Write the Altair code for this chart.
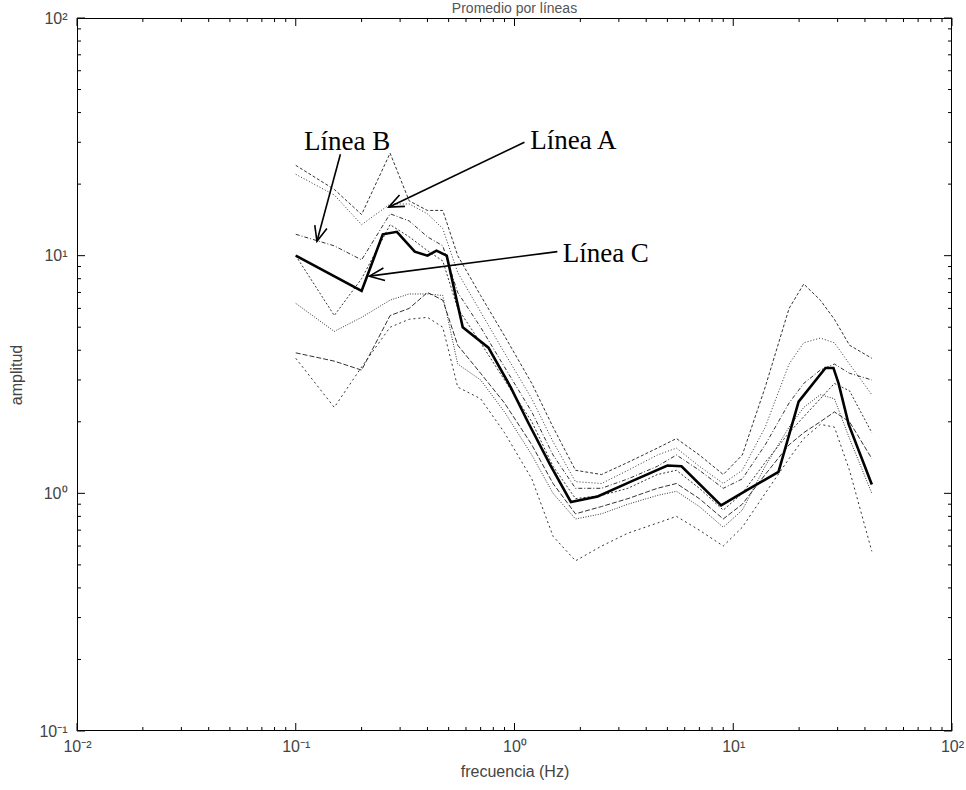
import math
import altair as alt
import pandas as pd

# ---------------- data ----------------
freq = [0.1, 0.15, 0.2, 0.27, 0.33, 0.4, 0.47, 0.55, 0.7, 0.9, 1.2, 1.5, 1.9, 2.5,
        3.3, 4.5, 5.5, 7, 9, 11, 14, 18, 21, 25, 29, 34, 43]

serie_1 = [24, 19, 14.9, 27, 17, 15.5, 15.5, 10, 6.8, 4.6, 2.9, 1.9, 1.25, 1.2, 1.35,
           1.55, 1.7, 1.45, 1.2, 1.45, 2.8, 6.0, 7.6, 6.5, 5.4, 4.2, 3.7]
serie_2 = [22, 18, 13.5, 16.5, 16.5, 15, 13, 8.5, 5.8, 3.9, 2.5, 1.65, 1.12, 1.1, 1.25,
           1.45, 1.55, 1.3, 1.1, 1.25, 1.9, 3.5, 4.3, 4.5, 4.3, 3.5, 2.6]
serie_3 = [12.3, 11, 9.6, 15, 14, 12, 11, 7, 5, 3.4, 2.2, 1.45, 1.05, 1.05, 1.15,
           1.3, 1.45, 1.25, 1.05, 1.15, 1.6, 2.4, 2.9, 3.3, 3.5, 3.2, 3.0]
serie_4 = [10, 5.6, 8.0, 13.5, 12, 10.5, 9.5, 6, 4.3, 3.0, 2.0, 1.3, 0.95, 0.98, 1.05,
           1.2, 1.25, 1.05, 0.85, 1.0, 1.35, 1.8, 2.1, 2.5, 2.9, 2.7, 1.8]
serie_5 = [6.3, 4.8, 5.5, 6.5, 6.9, 6.9, 6.8, 3.5, 3.0, 2.2, 1.45, 1.0, 0.78, 0.82, 0.9,
           0.98, 1.02, 0.88, 0.72, 0.85, 1.3, 1.9, 2.3, 2.6, 2.5, 1.7, 1.0]
serie_6 = [3.9, 3.6, 3.3, 5.6, 6.0, 7.0, 6.5, 4.2, 3.2, 2.4, 1.6, 1.1, 0.82, 0.88, 0.95,
           1.05, 1.1, 0.95, 0.78, 0.9, 1.2, 1.6, 1.8, 2.0, 2.2, 2.0, 1.4]
serie_7 = [3.7, 2.3, 3.4, 5.0, 5.4, 5.5, 5.0, 2.8, 2.5, 1.8, 1.15, 0.66, 0.52, 0.6, 0.68,
           0.75, 0.8, 0.7, 0.6, 0.72, 1.0, 1.4, 1.7, 1.95, 1.9, 1.25, 0.57]

prom_freq = [0.1, 0.2, 0.25, 0.29, 0.35, 0.4, 0.44, 0.49, 0.58, 0.76, 0.96, 1.15, 1.46,
             1.81, 2.4, 3.4, 5.0, 5.8, 8.8, 11.7, 16.1, 19.9, 26.4, 28.7, 30.3, 33.7, 43]
prom_amp = [10, 7.1, 12.3, 12.6, 10.4, 10, 10.5, 10.0, 5.0, 4.1, 2.8, 2.0, 1.31, 0.92,
            0.97, 1.12, 1.31, 1.30, 0.89, 1.04, 1.23, 2.43, 3.37, 3.37, 2.9, 1.95, 1.09]

titulo = "Promedio por líneas"
etiquetas = ["Línea A", "Línea B", "Línea C"]
etiq_f = [1.18, 0.109, 1.66]
etiq_a = [30.5, 30, 10.2]
flecha_f0 = [1.11, 0.160, 1.57]
flecha_a0 = [30, 26.7, 10.4]
flecha_f1 = [0.266, 0.125, 0.217]
flecha_a1 = [16.0, 11.5, 8.2]

x_ticks_major = [0.01, 0.1, 1, 10, 100]
y_ticks_major = [0.1, 1, 10, 100]
x_ticks_minor = [k * 10 ** d for d in range(-2, 2) for k in range(2, 10)]
y_ticks_minor = [k * 10 ** d for d in range(-1, 2) for k in range(2, 10)]

# ---------------- build tables ----------------
W, H = 875, 713
series = [serie_1, serie_2, serie_3, serie_4, serie_5, serie_6, serie_7]
rows = []
for i, s in enumerate(series):
    for f, a in zip(freq, s):
        rows.append({"serie": f"s{i+1}", "f": f, "a": a})
df_thin = pd.DataFrame(rows)
df_mean = pd.DataFrame({"f": prom_freq, "a": prom_amp})
df_lab = pd.DataFrame({"t": etiquetas, "f": etiq_f, "a": etiq_a})


def px(f):
    return W * (math.log10(f) + 2) / 4


def py(a):
    return H * (2 - math.log10(a)) / 3


angles = []
for f0, a0, f1, a1 in zip(flecha_f0, flecha_a0, flecha_f1, flecha_a1):
    dx = px(f1) - px(f0)
    dy = py(a1) - py(a0)
    angles.append(math.degrees(math.atan2(dx, -dy)) % 360)
df_arr = pd.DataFrame({"f0": flecha_f0, "a0": flecha_a0, "f1": flecha_f1,
                       "a1": flecha_a1, "ang": angles})

xs = alt.Scale(type="log", domain=[0.01, 100], nice=False)
ys = alt.Scale(type="log", domain=[0.1, 100], nice=False)

sup = "['⁻²','⁻¹','⁰','¹','²'][round(log(datum.value)/LN10)+2]"
x_axis = alt.Axis(values=x_ticks_major, labelExpr="'10' + " + sup, ticks=False,
                  domain=False, grid=False, labelPadding=7, labelFontSize=16,
                  labelFont="Liberation Sans", labelColor="#444",
                  title="frecuencia (Hz)", titleFontSize=16, titleFont="Liberation Sans",
                  titleFontWeight="normal", titleColor="#444", titlePadding=9,
                  labelFlush=False)
y_axis = alt.Axis(values=y_ticks_major, labelExpr="'10' + " + sup, ticks=False,
                  domain=False, grid=False, labelPadding=10, labelFontSize=16,
                  labelFont="Liberation Sans", labelColor="#444",
                  title="amplitud", titleFontSize=16, titleFont="Liberation Sans",
                  titleFontWeight="normal", titleColor="#444", titlePadding=14,
                  labelFlush=False)

X = lambda fld: alt.X(fld, type="quantitative", scale=xs, axis=x_axis)
Y = lambda fld: alt.Y(fld, type="quantitative", scale=ys, axis=y_axis)

thin = alt.Chart(df_thin).mark_line(strokeWidth=1, color="#333", clip=True).encode(
    x=X("f"), y=Y("a"), detail="serie:N",
    strokeDash=alt.StrokeDash("serie:N", legend=None, scale=alt.Scale(
        range=[[3, 2], [1, 2], [4, 2, 1, 2], [2, 2], [1, 1.5], [5, 2], [2, 3]])),
    order="f:Q")

mean = alt.Chart(df_mean).mark_line(strokeWidth=2.6, color="black").encode(
    x=X("f"), y=Y("a"), order="f:Q")

arrows = alt.Chart(df_arr).mark_rule(strokeWidth=1.6, color="black").encode(
    x=X("f0"), y=Y("a0"), x2="f1", y2="a1")

heads = alt.Chart(df_arr).mark_point(
    shape="M-0.42,1L0,0L0.42,1", filled=False, size=900, strokeWidth=1.6,
    color="black", opacity=1).encode(x=X("f1"), y=Y("a1"),
                                     angle=alt.Angle("ang:Q", scale=None))

texts = alt.Chart(df_lab).mark_text(align="left", baseline="middle",
                                    font="Liberation Serif", fontSize=27,
                                    color="black").encode(x=X("f"), y=Y("a"), text="t:N")

title_df = pd.DataFrame({"t": [titulo]})
title_mark = alt.Chart(title_df).mark_text(
    align="center", baseline="middle", font="Liberation Sans", fontSize=14,
    color="#555").encode(x=alt.value(W / 2), y=alt.value(-9), text="t:N")

frame = alt.Chart(title_df).mark_rect(fill=None, stroke="black", strokeWidth=1).encode(
    x=alt.value(0.5), x2=alt.value(W - 0.5), y=alt.value(0.5), y2=alt.value(H - 0.5))


def tick_layers(vals, length, axis_name):
    d = pd.DataFrame({"v": vals})
    out = []
    if axis_name == "x":
        out.append(alt.Chart(d).mark_rule(color="black", strokeWidth=1).encode(
            x=X("v"), y=alt.value(H), y2=alt.value(H - length)))
        out.append(alt.Chart(d).mark_rule(color="black", strokeWidth=1).encode(
            x=X("v"), y=alt.value(0), y2=alt.value(length)))
    else:
        out.append(alt.Chart(d).mark_rule(color="black", strokeWidth=1).encode(
            y=Y("v"), x=alt.value(0), x2=alt.value(length)))
        out.append(alt.Chart(d).mark_rule(color="black", strokeWidth=1).encode(
            y=Y("v"), x=alt.value(W), x2=alt.value(W - length)))
    return out


ticks = (tick_layers(x_ticks_major, 8, "x") + tick_layers(x_ticks_minor, 4, "x")
         + tick_layers(y_ticks_major, 8, "y") + tick_layers(y_ticks_minor, 4, "y"))

chart = alt.layer(thin, mean, arrows, heads, texts, title_mark, frame, *ticks).properties(
    width=W, height=H,
    padding={"left": 77, "top": 18, "right": 14, "bottom": 59},
    autosize=alt.AutoSizeParams(type="none"),
).configure(background="white").configure_view(strokeWidth=0)

chart.save("out.html", embed_options={"renderer": "svg", "actions": False})
